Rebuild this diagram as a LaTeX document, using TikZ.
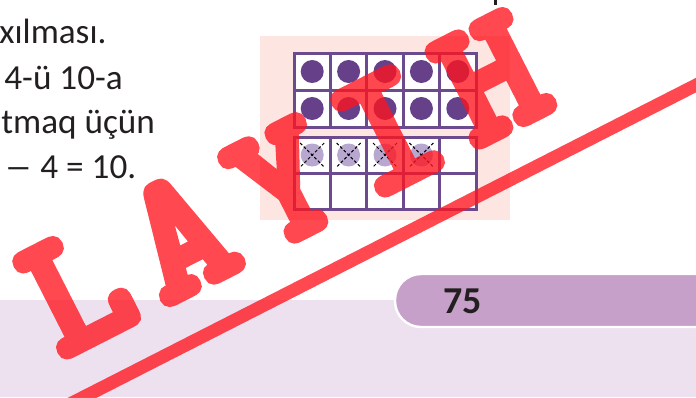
\documentclass[tikz,border=0pt]{standalone}
\usepackage{fontspec}
\setmainfont{Carlito}
\newfontfamily\stampfont{lmmonolt10-bold.otf}[FakeBold=5]
\definecolor{gridpurple}{HTML}{6B4A8E}
\definecolor{dotpurple}{HTML}{66418A}
\definecolor{dotlight}{HTML}{B8A8D0}
\definecolor{panelpink}{HTML}{FDE5E2}
\definecolor{bandlilac}{HTML}{EDE1EF}
\definecolor{tablilac}{HTML}{C6A0C9}
\definecolor{stampred}{RGB}{255,20,30}
\definecolor{inkgray}{HTML}{231F20}

\begin{document}
\begin{tikzpicture}[
    x=0.5pt, y=-0.5pt,
    textline/.style={font=\fontsize{17.6}{20}\selectfont, text=inkgray, anchor=base west, inner sep=0},
    cell/.style={draw=gridpurple, line width=1.5pt, fill=white},
    fulldot/.style={fill=dotpurple},
    takendot/.style={fill=dotlight},
    cross/.style={black, line width=0.5pt, dash pattern=on 1.5pt off 1pt},
    stamp/.style={font=\stampfont\fontsize{90}{90}\selectfont, text=stampred, rotate=27, anchor=base, inner sep=0}
]
\useasboundingbox (0,0) rectangle (696,397);

% page band and number tab
\fill[bandlilac] (0,300) rectangle (696,397);
\draw[white, line width=1.2pt, fill=tablilac, rounded corners=13pt] (395,274) rectangle (740,327);
\node[anchor=base west, inner sep=0, font=\bfseries\fontsize{19}{20}\selectfont, text=inkgray] (pagenum) at (443,313) {75};

% text lines
\node[textline] (line1) at (-1,43) {xılması.};
\node[textline] (line2) at (4,89) {4-ü 10-a};
\node[textline] (line3) at (1,133) {tmaq üçün};
\node[textline] (line4) at (4,178) {\scalebox{1.6}[1]{–} 4 = 10.};
\fill[inkgray] (493.5,0) rectangle (496.5,4.5);

% ten frame panel
\fill[panelpink] (260,36) rectangle (510,220);
\foreach \c in {0,...,4} {
  \draw[cell] ({294+36.4*\c},53) rectangle ++(36.4,37);
  \draw[cell] ({294+36.4*\c},90) rectangle ++(36.4,37);
  \draw[cell] ({294+36.4*\c},137) rectangle ++(36.4,36);
  \draw[cell] ({294+36.4*\c},173) rectangle ++(36.4,36);
  \fill[fulldot] ({312.2+36.4*\c},71.5) circle[radius=11.5];
  \fill[fulldot] ({312.2+36.4*\c},108.5) circle[radius=11.5];
}
\foreach \c in {0,...,3} {
  \fill[takendot] ({312.2+36.4*\c},155) circle[radius=11.5];
  \draw[cross] ({300.2+36.4*\c},143) -- ++(24,24);
  \draw[cross] ({324.2+36.4*\c},143) -- ++(-24,24);
}

% stamp
\begin{scope}[transparency group, opacity=0.78]
\foreach \ch [count=\k from 0] in {L,A,Y,I,H}
  \node[stamp] (stamp\k) at ({102+103.5*\k},{338-52.7*\k}) {\ch};
\draw[stampred, line width=6.5pt] (70,404) -- (710,78);
\end{scope}

\end{tikzpicture}
\end{document}
